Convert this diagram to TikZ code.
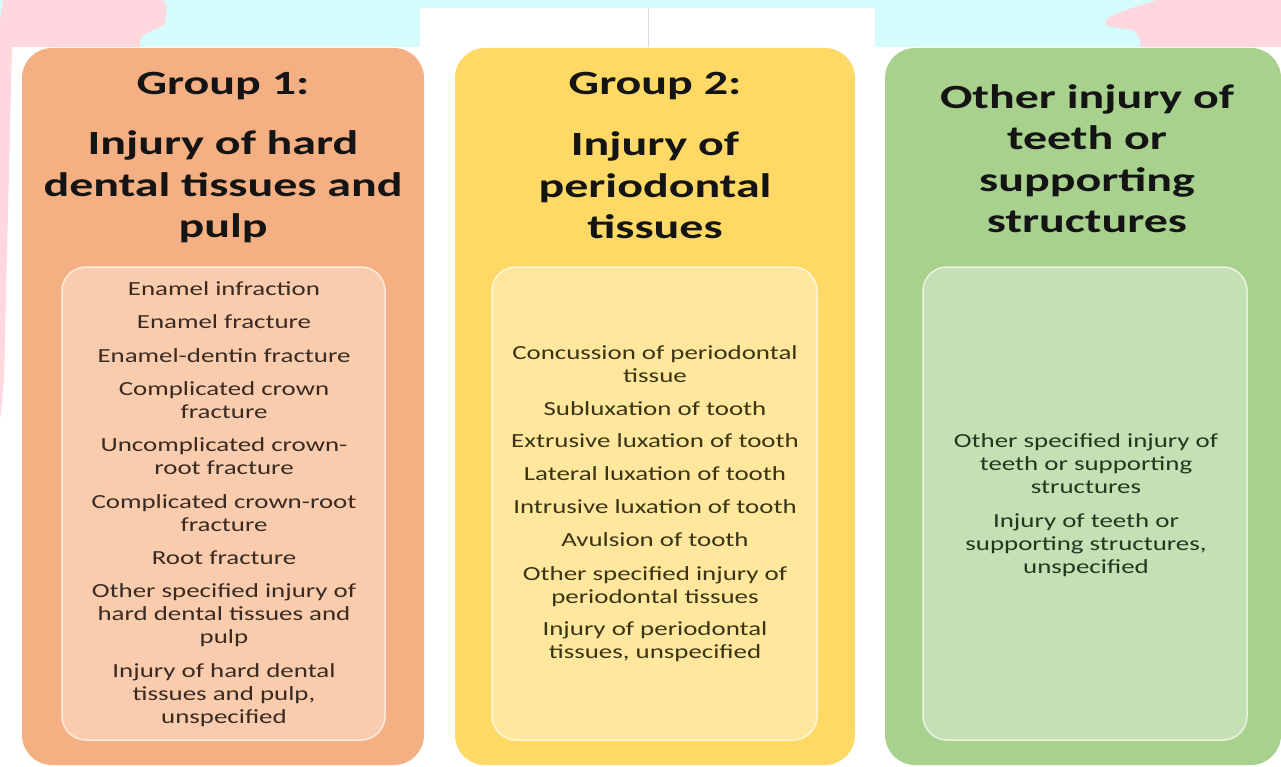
\documentclass[tikz,border=0pt]{standalone}
\usepackage{fontspec}
\setmainfont{Carlito}[FakeStretch=1.345]
\newfontfamily\ttlfont{Carlito}[FakeStretch=1.41]
\definecolor{cyanbg}{HTML}{D6FBFD}
\definecolor{pinkbg}{HTML}{FFD7DF}
\definecolor{orOut}{HTML}{F4B083}
\definecolor{orIn}{HTML}{F8CCAC}
\definecolor{yeOut}{HTML}{FED966}
\definecolor{yeIn}{HTML}{FFE79E}
\definecolor{grOut}{HTML}{A9D18E}
\definecolor{grIn}{HTML}{C6E0B5}
\definecolor{txOr}{HTML}{3A2A22}
\definecolor{txYe}{HTML}{3A3415}
\definecolor{txGr}{HTML}{1E3A1E}
\begin{document}
\begin{tikzpicture}[x=1pt,y=-1pt,
  outerbox/.style={rounded corners=30pt, inner sep=0pt, draw=none},
  innerbox/.style={rounded corners=24pt, line width=1.5pt, inner sep=0pt},
  ttl/.style={font=\ttlfont\bfseries\fontsize{34}{41.5}\selectfont, align=center, anchor=base, inner sep=0pt, text=black!92},
  itm/.style={font=\fontsize{20}{23}\selectfont, align=center, anchor=base, inner sep=0pt},
]
\useasboundingbox (0,0) rectangle (1281,767);
% background
\fill[white] (0,0) rectangle (1281,767);
\fill[cyanbg] (0,0) rectangle (1281,47);
\fill[white] (420,8) rectangle (875,47);
\draw[black!15, line width=1pt] (648,8) -- (648,47);
\fill[pinkbg] (3,0) -- (163,0) -- (167,5) -- (165,24) .. controls (158,30) and (143,32) .. (140,40) -- (140,47) -- (12,47) -- (4,380) -- (0,420) -- (0,20) -- cycle;
\fill[pinkbg] (1281,0) -- (1157,0) .. controls (1125,10) and (1105,16) .. (1105,23) .. controls (1106,28) and (1125,28) .. (1132,30) .. controls (1139,33) and (1140,40) .. (1141,47) -- (1281,47) -- cycle;

% outer boxes
\node[outerbox, fill=orOut, minimum width=402pt, minimum height=717pt] (g1) at (223,406.5) {};
\node[outerbox, fill=yeOut, minimum width=400pt, minimum height=717pt] (g2) at (655,406.5) {};
\node[outerbox, fill=grOut, minimum width=396pt, minimum height=717pt] (g3) at (1083,406.5) {};
% inner boxes
\node[innerbox, fill=orIn, draw=orIn!40!white, minimum width=323pt, minimum height=473pt] (i1) at (223.5,503.5) {};
\node[innerbox, fill=yeIn, draw=yeIn!40!white, minimum width=325pt, minimum height=473pt] (i2) at (654.5,503.5) {};
\node[innerbox, fill=grIn, draw=grIn!40!white, minimum width=324pt, minimum height=473pt] (i3) at (1085,503.5) {};

% titles (anchor base = baseline of last line)
\node[ttl] (t1a) at (223,95) {Group 1:};
\node[ttl] (t1b) at (223,238) {Injury of hard\\dental tissues and\\pulp};
\node[ttl] (t2a) at (655,95) {Group 2:};
\node[ttl] (t2b) at (655,239) {Injury of\\periodontal\\tissues};
\node[ttl] (t3) at (1087,233) {Other injury of\\teeth or\\supporting\\structures};

% group 1 items
\begin{scope}[every node/.style={itm, text=txOr}]
\node (a1) at (224,295) {Enamel infraction};
\node (a2) at (224,328) {Enamel fracture};
\node (a3) at (224,362) {Enamel-dentin fracture};
\node (a4) at (224,418) {Complicated crown\\fracture};
\node (a5) at (224,474) {Uncomplicated crown-\\root fracture};
\node (a6) at (224,531) {Complicated crown-root\\fracture};
\node (a7) at (224,564) {Root fracture};
\node (a8) at (224,643) {Other specified injury of\\hard dental tissues and\\pulp};
\node (a9) at (224,723) {Injury of hard dental\\tissues and pulp,\\unspecified};
\end{scope}

% group 2 items
\begin{scope}[every node/.style={itm, text=txYe}]
\node (b1) at (655,382) {Concussion of periodontal\\tissue};
\node (b2) at (655,415) {Subluxation of tooth};
\node (b3) at (655,447) {Extrusive luxation of tooth};
\node (b4) at (655,480) {Lateral luxation of tooth};
\node (b5) at (655,513) {Intrusive luxation of tooth};
\node (b6) at (655,546) {Avulsion of tooth};
\node (b7) at (655,603) {Other specified injury of\\periodontal tissues};
\node (b8) at (655,658) {Injury of periodontal\\tissues, unspecified};
\end{scope}

% group 3 items
\begin{scope}[every node/.style={itm, text=txGr}]
\node (c1) at (1086,493) {Other specified injury of\\teeth or supporting\\structures};
\node (c2) at (1086,573) {Injury of teeth or\\supporting structures,\\unspecified};
\end{scope}
\end{tikzpicture}
\end{document}
